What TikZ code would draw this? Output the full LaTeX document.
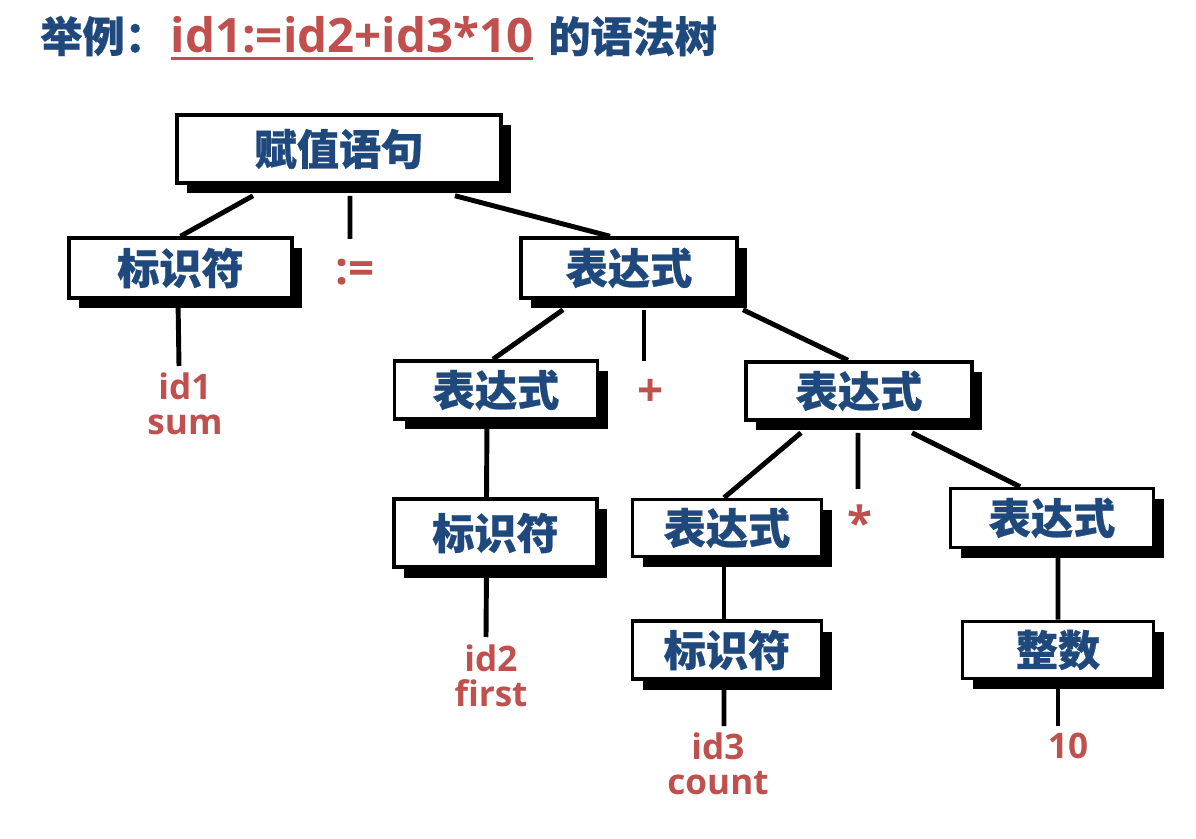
\documentclass[tikz,border=0pt]{standalone}
\usepackage{fontspec}
\usepackage{xcolor}
\usepackage{tikz}
\usetikzlibrary{shadows}

\setmainfont{Open Sans}
\newfontfamily\cjk{Noto Sans CJK SC}[BoldFeatures={FakeBold=0.6}]

\definecolor{treeblue}{RGB}{31,73,125}
\definecolor{treered}{RGB}{192,80,77}

\newcommand{\treefont}{\cjk\bfseries\fontsize{24pt}{28pt}\selectfont}
\newcommand{\leaffont}{\bfseries\fontsize{20pt}{20pt}\selectfont}
\newcommand{\opfont}{\bfseries\fontsize{26pt}{28pt}\selectfont}
\newcommand{\redline}[1]{\setbox0\hbox{#1}\rlap{\rule[-4.5pt]{\wd0}{1.5pt}}\box0}

\begin{document}
\begin{tikzpicture}[
        tree/.style={draw=black, line width=2pt, fill=white, inner sep=0pt,
            font=\treefont, text=treeblue,
            drop shadow={shadow xshift=0.2cm, shadow yshift=-0.21cm, fill=black, opacity=1}},
        leaf/.style={align=center, inner sep=0pt, font=\leaffont, text=treered},
        op/.style={inner sep=0pt, font=\opfont, text=treered},
        edge/.style={line width=2.8pt}
    ]
        \useasboundingbox (0,0) rectangle (23.92,16.76);

        % Title
        \node[anchor=west, inner sep=0pt, text=treeblue, font=\bfseries] (title) at (0.8,16.0)
            {{\cjk\fontsize{24pt}{28pt}\selectfont 举例：}\hspace{0.08cm}{\fontsize{27pt}{30pt}\selectfont\color{treered}\redline{id1:=id2+id3*10}}\hspace{0.3cm}{\cjk\fontsize{24pt}{28pt}\selectfont 的语法树}};

        % Root
        \node[tree, minimum width=6.48cm, minimum height=1.36cm] (root) at (6.78,13.78) {赋值语句};

        % Level 1
        \node[tree, minimum width=4.46cm, minimum height=1.20cm] (idl) at (3.61,11.40) {标识符};
        \node[op] (assign) at (7.10,11.32) {:=};
        \node[tree, minimum width=4.32cm, minimum height=1.20cm] (expr) at (12.58,11.40) {表达式};

        % Level 2
        \node[leaf] (sum) at (3.70,8.69) {id1\\sum};
        \node[tree, minimum width=4.06cm, minimum height=1.16cm] (exprl) at (9.92,8.96) {表达式};
        \node[op] (plus) at (13.02,8.90) {+};
        \node[tree, minimum width=4.52cm, minimum height=1.16cm] (exprr) at (17.18,8.94) {表达式};

        % Level 3
        \node[tree, minimum width=4.06cm, minimum height=1.36cm] (idm) at (9.91,6.10) {标识符};
        \node[tree, minimum width=3.78cm, minimum height=1.14cm] (term) at (14.54,6.20) {表达式};
        \node[op] (times) at (17.20,6.32) {*};
        \node[tree, minimum width=4.06cm, minimum height=1.18cm] (num) at (21.04,6.40) {表达式};

        % Level 4
        \node[leaf] (first) at (9.82,3.24) {id2\\first};
        \node[tree, minimum width=3.78cm, minimum height=1.16cm] (idr) at (14.54,3.76) {标识符};
        \node[tree, minimum width=3.82cm, minimum height=1.14cm] (int) at (21.16,3.76) {整数};

        % Leaves
        \node[leaf] (count) at (14.36,1.49) {id3\\count};
        \node[leaf] (ten) at (21.36,1.85) {10};

        % Edges
        \draw[edge] ([xshift=-1.72cm,yshift=-0.22cm]root.south) -- (idl.north);
        \draw[edge] ([xshift=0.22cm,yshift=-0.22cm]root.south) -- ([xshift=-0.1cm,yshift=0.66cm]assign.center);
        \draw[edge] ([xshift=2.32cm,yshift=-0.22cm]root.south) -- ([xshift=-0.38cm]expr.north);

        \draw[edge] ([xshift=-0.05cm]idl.south) -- ([xshift=-0.12cm,yshift=0.75cm]sum.center);
        \draw[edge] ([xshift=-1.32cm,yshift=-0.2cm]expr.south) -- ([xshift=-0.06cm]exprl.north);
        \draw[edge] ([xshift=0.3cm,yshift=-0.2cm]expr.south) -- ([xshift=-0.14cm,yshift=0.64cm]plus.center);
        \draw[edge] ([xshift=2.28cm,yshift=-0.2cm]expr.south) -- ([xshift=-0.22cm]exprr.north);

        \draw[edge] ([xshift=-0.18cm]exprl.south) -- ([xshift=-0.18cm]idm.north);
        \draw[edge] ([xshift=-1.16cm,yshift=-0.22cm]exprr.south) -- ([xshift=-0.06cm]term.north);
        \draw[edge] ([xshift=-0.02cm,yshift=-0.22cm]exprr.south) -- ([xshift=-0.04cm,yshift=0.66cm]times.center);
        \draw[edge] ([xshift=1.06cm,yshift=-0.22cm]exprr.south) -- ([xshift=-0.64cm]num.north);

        \draw[edge] ([xshift=-0.18cm]idm.south) -- ([xshift=-0.1cm,yshift=0.78cm]first.center);
        \draw[edge] ([xshift=-0.06cm]term.south) -- ([xshift=-0.06cm]idr.north);
        \draw[edge] ([xshift=0.12cm]num.south) -- (int.north);

        \draw[edge] ([xshift=-0.06cm]idr.south) -- ([xshift=0.12cm,yshift=0.75cm]count.center);
        \draw[edge] (int.south) -- ([xshift=-0.2cm,yshift=0.39cm]ten.center);
    \end{tikzpicture}
\end{document}
